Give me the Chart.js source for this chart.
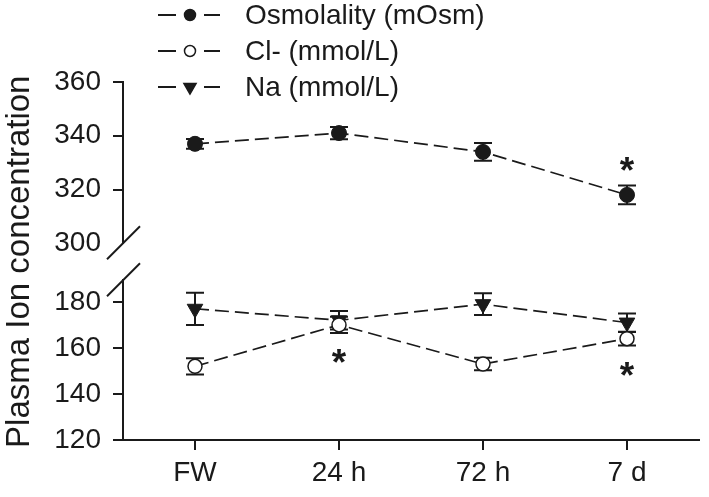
<!DOCTYPE html>
<html><head><meta charset="utf-8">
<script src="https://cdn.jsdelivr.net/npm/chart.js@4.4.1/dist/chart.umd.min.js"></script>
<style>html,body{margin:0;padding:0;background:#fff;}#wrap{width:709px;height:497px;position:relative;}</style>
</head><body><div id="wrap"><canvas id="c" width="709" height="497"></canvas></div>
<script>
// ---- data ----
const categories = ['FW', '24 h', '72 h', '7 d'];
const osmolality = [337, 341, 334, 318];
const osmolalityErr = [1.8, 2.3, 3.3, 3.5];
const chloride = [152, 170, 153, 164];
const chlorideErr = [3.5, 3.5, 2.7, 2.9];
const sodium = [177, 172, 179, 171];
const sodiumErr = [7, 4, 4.7, 4];
const upperTicks = [300, 320, 340, 360];
const lowerTicks = [120, 140, 160, 180];
const upperRange = [300, 360];
const lowerRange = [120, 189.4];
const seriesNames = ['Osmolality (mOsm)', 'Cl- (mmol/L)', 'Na (mmol/L)'];
const yTitle = 'Plasma Ion concentration';
// significance marks: series index, category index, side
const significance = [
  {series: 1, index: 1, side: 'below'},
  {series: 1, index: 3, side: 'below'},
  {series: 0, index: 3, side: 'above'}
];

const INK = '#1a1a1a';
const FONT = "'Liberation Sans', Arial, Helvetica, sans-serif";
const errors = [osmolalityErr, chlorideErr, sodiumErr];

const errorBars = {
  id: 'errorBars',
  beforeDatasetsDraw(chart) {
    const ctx = chart.ctx;
    const xs = chart.scales.x;
    ctx.save();
    ctx.strokeStyle = INK;
    ctx.lineWidth = 2;
    chart.data.datasets.forEach((ds, i) => {
      const ys = chart.scales[ds.yAxisID];
      ds.data.forEach((v, j) => {
        const e = errors[i][j];
        const x = xs.getPixelForValue(j);
        const yt = ys.getPixelForValue(v + e);
        const yb = ys.getPixelForValue(v - e);
        ctx.beginPath();
        ctx.moveTo(x, yt); ctx.lineTo(x, yb);
        ctx.moveTo(x - 9, yt); ctx.lineTo(x + 9, yt);
        ctx.moveTo(x - 9, yb); ctx.lineTo(x + 9, yb);
        ctx.stroke();
      });
    });
    ctx.restore();
  }
};

const extras = {
  id: 'extras',
  afterDraw(chart) {
    const ctx = chart.ctx;
    const xs = chart.scales.x;
    ctx.save();
    // significance asterisks
    const aSize = 37;
    ctx.font = 'bold ' + aSize + 'px ' + FONT;
    ctx.fillStyle = INK;
    ctx.textAlign = 'center';
    ctx.textBaseline = 'alphabetic';
    significance.forEach(s => {
      const ds = chart.data.datasets[s.series];
      const ys = chart.scales[ds.yAxisID];
      const v = ds.data[s.index], e = errors[s.series][s.index];
      const x = xs.getPixelForValue(s.index);
      let yc;
      if (s.side === 'below') yc = ys.getPixelForValue(v - e) + 21;
      else yc = ys.getPixelForValue(v + e) - 24;
      ctx.fillText('*', x, yc + 0.58 * aSize);
    });
    // axis break slashes
    ctx.strokeStyle = INK;
    ctx.lineWidth = 2;
    const yl = chart.scales.yLow, yh = chart.scales.yHigh;
    const ax = yl.right;
    [[ax, yh.bottom], [ax, yl.top]].forEach(([cx, cy]) => {
      ctx.beginPath();
      ctx.moveTo(cx - 16, cy + 16);
      ctx.lineTo(cx + 17, cy - 17);
      ctx.stroke();
    });
    // legend
    ctx.font = '28px ' + FONT;
    ctx.textAlign = 'left';
    ctx.textBaseline = 'middle';
    chart.data.datasets.forEach((ds, i) => {
      const y = 15 + i * 36;
      ctx.strokeStyle = INK;
      ctx.lineWidth = 2;
      ctx.beginPath();
      ctx.moveTo(158, y); ctx.lineTo(176, y);
      ctx.moveTo(204, y); ctx.lineTo(220, y);
      ctx.stroke();
      ctx.lineWidth = 1.5;
      ctx.fillStyle = ds.pointBackgroundColor;
      Chart.helpers.drawPoint(ctx, {
        pointStyle: ds.pointStyle, rotation: ds.pointRotation || 0,
        radius: ds.pointStyle === 'triangle' ? 7 : 5.5, borderWidth: 1.5
      }, 190, y);
      ctx.fillStyle = INK;
      ctx.fillText(seriesNames[i], 245, y + 1);
    });
    ctx.restore();
  }
};

const tickFont = {family: FONT, size: 28};
const yGrid = {drawOnChartArea: false, drawTicks: true, tickLength: 10, color: INK, lineWidth: 2};
const dash = [14, 6];

new Chart(document.getElementById('c'), {
  type: 'line',
  data: {
    labels: categories,
    datasets: [
      {label: seriesNames[0], data: osmolality, yAxisID: 'yHigh',
       borderColor: INK, borderWidth: 1.7, borderDash: dash,
       pointStyle: 'circle', pointRadius: 7.5, pointBackgroundColor: INK, pointBorderColor: INK, pointBorderWidth: 1},
      {label: seriesNames[1], data: chloride, yAxisID: 'yLow',
       borderColor: INK, borderWidth: 1.7, borderDash: dash,
       pointStyle: 'circle', pointRadius: 7, pointBackgroundColor: '#ffffff', pointBorderColor: INK, pointBorderWidth: 1.5},
      {label: seriesNames[2], data: sodium, yAxisID: 'yLow',
       borderColor: INK, borderWidth: 1.7, borderDash: dash,
       pointStyle: 'triangle', pointRotation: 180, pointRadius: 9, pointBackgroundColor: INK, pointBorderColor: INK, pointBorderWidth: 1}
    ]
  },
  options: {
    responsive: false,
    animation: false,
    devicePixelRatio: 1,
    layout: {padding: {top: 82, right: 2, left: 0, bottom: 0}},
    plugins: {legend: {display: false}, tooltip: {enabled: false}},
    scales: {
      x: {
        type: 'category', offset: true,
        grid: {display: true, drawOnChartArea: false, drawTicks: true, tickLength: 10, color: INK, lineWidth: 2},
        border: {display: true, color: INK, width: 2},
        ticks: {font: tickFont, color: INK, padding: 6, maxRotation: 0, autoSkip: false},
        afterFit: s => { s.height = 57; }
      },
      yLow: {
        type: 'linear', position: 'left', stack: 'y', stackWeight: 160,
        min: lowerRange[0], max: lowerRange[1],
        afterBuildTicks: s => { s.ticks = lowerTicks.map(v => ({value: v})); },
        grid: yGrid,
        border: {display: true, color: INK, width: 2},
        ticks: {font: tickFont, color: INK, padding: 12, autoSkip: false},
        afterFit: s => { s.width = 123; }
      },
      yGap: {
        type: 'linear', position: 'left', stack: 'y', stackWeight: 37,
        grid: {display: false}, border: {display: false}, ticks: {display: false},
        title: {display: true, text: yTitle, color: INK, font: {family: FONT, size: 33}, padding: 0},
        afterFit: s => { s.width = 123; }
      },
      yHigh: {
        type: 'linear', position: 'left', stack: 'y', stackWeight: 161.5,
        min: upperRange[0], max: upperRange[1],
        afterBuildTicks: s => { s.ticks = upperTicks.map(v => ({value: v})); },
        grid: Object.assign({}, yGrid, {tickColor: c => (c.tick && c.tick.value === upperRange[0]) ? 'rgba(0,0,0,0)' : INK}),
        border: {display: true, color: INK, width: 2},
        ticks: {font: tickFont, color: INK, padding: 12, autoSkip: false},
        afterFit: s => { s.width = 123; }
      }
    }
  },
  plugins: [errorBars, extras]
});
</script>
</body></html>
